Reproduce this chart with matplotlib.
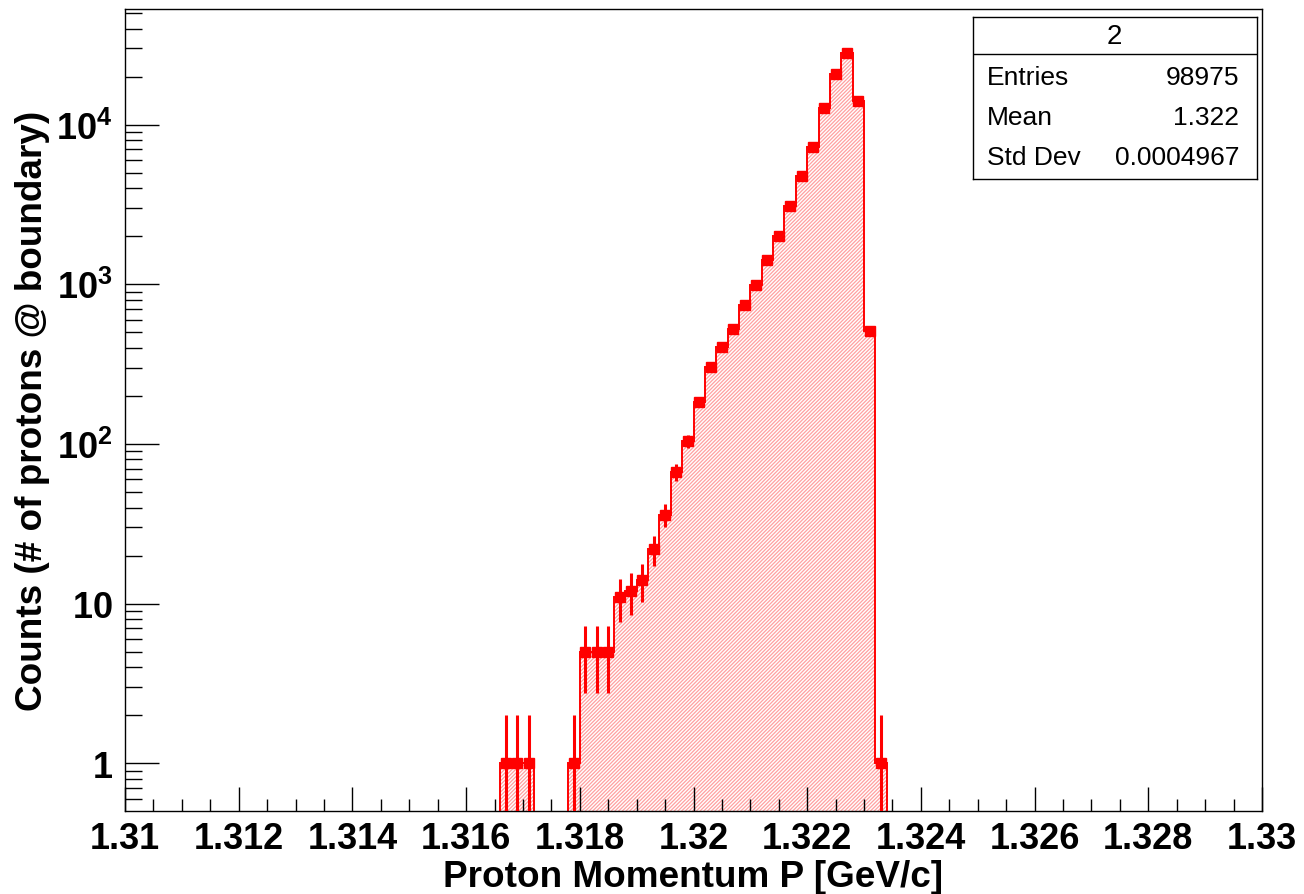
import numpy as np
import matplotlib
matplotlib.use("Agg")
import matplotlib.pyplot as plt
from matplotlib.ticker import LogLocator, FixedLocator, FuncFormatter, NullFormatter

# Histogram contents: bin low edges (GeV/c) and counts per 0.0002 GeV/c bin
bin_width = 0.0002
bin_low = [1.3166, 1.3168, 1.3170, 1.3178, 1.3180, 1.3182, 1.3184, 1.3186,
           1.3188, 1.3190, 1.3192, 1.3194, 1.3196, 1.3198, 1.3200, 1.3202,
           1.3204, 1.3206, 1.3208, 1.3210, 1.3212, 1.3214, 1.3216, 1.3218,
           1.3220, 1.3222, 1.3224, 1.3226, 1.3228, 1.3230, 1.3232]
counts = [1, 1, 1, 1, 5, 5, 5, 11,
          12, 14, 22, 36, 67, 104, 184, 304,
          405, 525, 746, 991, 1420, 2018, 3111, 4794,
          7280, 12680, 20800, 28000, 14070, 508, 1]

stats_title = "2"
stats_rows = [("Entries", "98975"), ("Mean", "1.322"), ("Std Dev", "0.0004967")]

x_label = "Proton Momentum P [GeV/c]"
y_label = "Counts (# of protons @ boundary)"
x_ticks = [1.31, 1.312, 1.314, 1.316, 1.318, 1.32, 1.322, 1.324, 1.326, 1.328, 1.33]
x_tick_labels = ["1.31", "1.312", "1.314", "1.316", "1.318", "1.32", "1.322",
                 "1.324", "1.326", "1.328", "1.33"]

plt.rcParams["font.family"] = ["Liberation Sans", "DejaVu Sans"]
plt.rcParams["mathtext.fontset"] = "custom"
plt.rcParams["mathtext.rm"] = "Liberation Sans"
plt.rcParams["mathtext.bf"] = "Liberation Sans:bold"
plt.rcParams["hatch.linewidth"] = 0.9

W, H = 1304, 895
fig = plt.figure(figsize=(W / 100, H / 100), dpi=100)
ax_l, ax_r, ax_t, ax_b = 125, 1262, 10, 812
ax = fig.add_axes([ax_l / W, 1 - ax_b / H, (ax_r - ax_l) / W, (ax_b - ax_t) / H])

ax.set_yscale("log")
ax.set_xlim(1.31, 1.33)
ymin, ymax = 0.503, 5.3e4
ax.set_ylim(ymin, ymax)

red = "#ff0000"
hatch_col = "#ffa0a0"

low = np.array(bin_low)
cnt = np.array(counts, dtype=float)
centers = low + bin_width / 2

# split into contiguous runs of filled bins
runs = []
start = 0
for i in range(1, len(low) + 1):
    if i == len(low) or not np.isclose(low[i], low[i - 1] + bin_width):
        runs.append((start, i))
        start = i

for a, b in runs:
    edges = np.append(low[a:b], low[b - 1] + bin_width)
    vals = cnt[a:b]
    ax.stairs(vals, edges, baseline=ymin, fill=True, facecolor="none",
              edgecolor=hatch_col, linewidth=0, hatch="/" * 9, zorder=1)
    ax.stairs(vals, edges, baseline=ymin, fill=False, color=red,
              linewidth=1.4, zorder=2)

err = np.sqrt(cnt)
err_lo = np.minimum(err, cnt - 1e-3)
ax.errorbar(centers, cnt, yerr=[err_lo, err], fmt="s", color=red, ms=6.5,
            elinewidth=2.2, capsize=0, zorder=3)

# axes styling
for side in ["top", "right", "left", "bottom"]:
    ax.spines[side].set_linewidth(1.0)
    ax.spines[side].set_color("black")

ax.xaxis.set_major_locator(FixedLocator(x_ticks))
ax.set_xticklabels(x_tick_labels)
ax.xaxis.set_minor_locator(FixedLocator(np.arange(1.31, 1.33001, 0.0005)))
ax.tick_params(axis="x", which="major", direction="in", length=17.3, width=1,
               labelsize=26, pad=7, top=False)
ax.tick_params(axis="x", which="minor", direction="in", length=8.6, width=1, top=False)
for lbl in ax.get_xticklabels():
    lbl.set_fontweight("bold")

ax.yaxis.set_major_locator(LogLocator(base=10, numticks=20))
ax.yaxis.set_minor_locator(LogLocator(base=10, subs=np.arange(2, 10), numticks=20))
ax.yaxis.set_minor_formatter(NullFormatter())


def ylab(v, pos):
    e = int(round(np.log10(v)))
    if e == 0:
        return r"$\mathbf{1}$"
    if e == 1:
        return r"$\mathbf{10}$"
    return r"$\mathbf{10^{%d}}$" % e


ax.yaxis.set_major_formatter(FuncFormatter(ylab))
ax.tick_params(axis="y", which="major", direction="in", length=24.5, width=1,
               labelsize=26, pad=9, right=False)
ax.tick_params(axis="y", which="minor", direction="in", length=12.2, width=1, right=False)

fig.text((ax_l + ax_r) / 2 / W, 1 - 878 / H, x_label, ha="center", va="center",
         fontsize=26.6, fontweight="bold")
fig.text(33 / W, 1 - (ax_t + ax_b) / 2 / H, y_label, ha="center", va="center",
         rotation=90, fontsize=26.6, fontweight="bold")

# statistics box
bx0, bx1, by0, by1 = 972.5, 1256.5, 17.5, 180
box_ax = fig.add_axes([bx0 / W, 1 - by1 / H, (bx1 - bx0) / W, (by1 - by0) / H])
box_ax.set_xlim(bx0, bx1)
box_ax.set_ylim(by1, by0)
box_ax.set_xticks([])
box_ax.set_yticks([])
for s in box_ax.spines.values():
    s.set_linewidth(1.0)
    s.set_color("black")
box_ax.axhline(55, color="black", linewidth=1.0)
box_ax.text((bx0 + bx1) / 2, 37, stats_title, ha="center", va="center", fontsize=20)
row_y = [78, 118, 158]
for (name, val), yy in zip(stats_rows, row_y):
    box_ax.text(987, yy, name, ha="left", va="center", fontsize=19)
    box_ax.text(1239, yy, val, ha="right", va="center", fontsize=19)

fig.savefig("out.png", dpi=100)
